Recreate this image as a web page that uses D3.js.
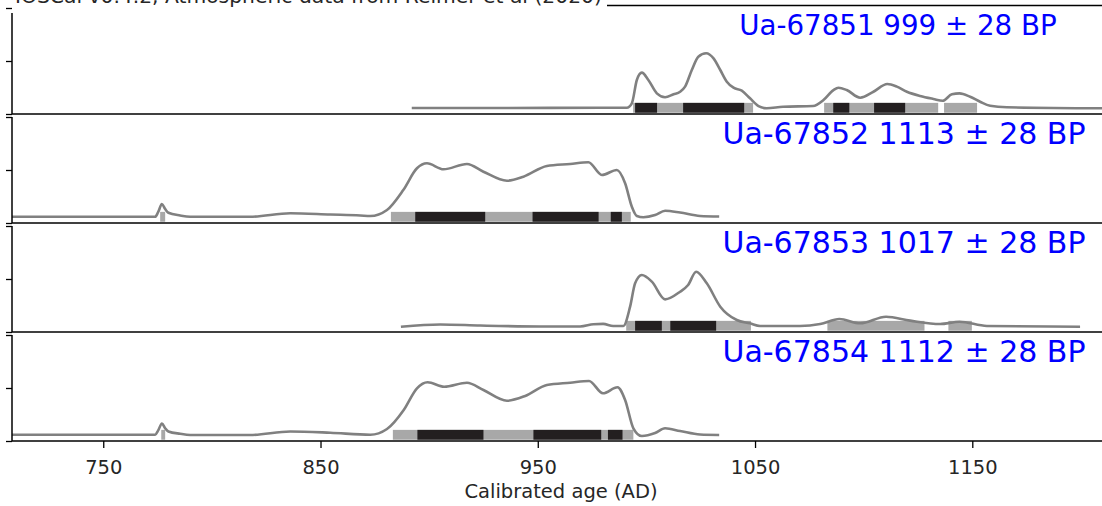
<html>
<head>
<meta charset="utf-8">
<script src="https://d3js.org/d3.v7.min.js"></script>
<style>
  body { margin: 0; background: #fff; }
  text { font-family: "DejaVu Sans", sans-serif; }
</style>
</head>
<body>
<div id="chart"></div>
<script>
var width = 1102, height = 506;

var titleText = "IOSCal v0.4.2, Atmospheric data from Reimer et al (2020)";
var xTicks = [750, 850, 950, 1050, 1150];
var xTitle = "Calibrated age (AD)";

var sampleLabels = [
  "Ua-67851 999 ± 28 BP",
  "Ua-67852 1113 ± 28 BP",
  "Ua-67853 1017 ± 28 BP",
  "Ua-67854 1112 ± 28 BP"
];

// probability curves: [year, plotted height as share of the panel]
var curve1 = [[892,.057],[933,.057],[979,.059],[991,.059],[993.3,.101],[995.6,.321],[997.9,.39],
  [1000.9,.321],[1004.8,.195],[1008.6,.158],[1012.5,.186],[1015.5,.21],[1017.8,.258],[1020.9,.415],
  [1023.9,.541],[1027.5,.573],[1030.9,.525],[1034,.415],[1037,.305],[1040.1,.248],[1043.9,.22],
  [1047.7,.148],[1051.6,.075],[1055.4,.054],[1062.9,.069],[1076.7,.075],[1081.5,.132],[1086.1,.226],
  [1088.4,.248],[1092.2,.226],[1098.4,.154],[1104.5,.21],[1110.9,.283],[1115.3,.258],[1119.9,.21],
  [1126,.17],[1132.1,.142],[1136.4,.125],[1140.6,.186],[1144.1,.195],[1149,.163],[1153.6,.116],
  [1158.2,.078],[1165.9,.063],[1209.7,.054]];
var curve2 = [[708,.059],[773.9,.059],[775.3,.104],[777,.179],[778.5,.132],[780,.097],[785.4,.071],
  [790,.059],[817.6,.059],[836.1,.092],[854.5,.08],[868.3,.071],[872.9,.066],[880.6,.123],[888.1,.311],
  [894.4,.516],[899,.563],[906.6,.507],[917.4,.557],[925,.484],[935.8,.399],[943.4,.437],[954.2,.538],
  [964.9,.557],[973.3,.573],[979.5,.453],[986.4,.5],[990.2,.375],[993.3,.154],[995.6,.066],[998.6,.054],
  [1004,.075],[1008.6,.116],[1015.5,.099],[1024.7,.066],[1033.5,.061]];
var curve3 = [[887,.05],[905.1,.071],[923.5,.061],[951.1,.052],[969.5,.052],[975.6,.073],[980.1,.077],
  [984.7,.057],[989.4,.057],[992.5,.239],[994.8,.459],[997.9,.538],[1002.5,.475],[1008.6,.308],
  [1015.5,.38],[1019.2,.443],[1022.9,.569],[1027.8,.459],[1034,.239],[1041.6,.113],[1047.7,.082],
  [1052.3,.057],[1070.7,.057],[1080,.075],[1088.8,.123],[1098.4,.082],[1110.3,.144],[1121.4,.107],
  [1135.2,.075],[1144.1,.097],[1156.7,.057],[1199.6,.05]];
var curve4 = [[708,.059],[773.9,.059],[775.3,.1],[777,.165],[778.5,.12],[780,.09],[785.4,.068],
  [790,.057],[817.6,.057],[836.1,.09],[854.5,.078],[872.9,.059],[880.6,.113],[888.3,.292],[894.4,.497],
  [899.3,.554],[906.9,.512],[917.4,.55],[925,.481],[935.8,.38],[944.2,.425],[954.2,.528],[964.9,.55],
  [973.6,.566],[980,.45],[986.7,.507],[990.2,.387],[994,.12],[997.9,.047],[1004,.075],[1008.6,.12],
  [1015.5,.094],[1024.7,.061],[1033.5,.057]];

// highest density ranges (95% grey, 68% black)
var hpd95 = [
  [[993.9,1049.1],[1081.8,1134.3],[1137,1152.2]],
  [[776.2,778.5],[882.4,992.8]],
  [[990.7,1048.1],[1083.3,1128],[1139,1149.8]],
  [[776.7,778.5],[883.3,994]]
];
var hpd68 = [
  [[994.8,1004.9],[1016.9,1045],[1086,1093.4],[1104.8,1119.1]],
  [[893.6,925.8],[947.6,978],[983.6,988.7]],
  [[994.8,1007.1],[1011,1032.1]],
  [[894.6,925],[948,979.2],[982.3,989]]
];
var curves = [curve1, curve2, curve3, curve4];

var left = 12, right = 1102, firstTop = 8, panelH = 106, gap = 3;
var barLo = 0.012, barHi = 0.105;
var labelSize = [27.7, 30, 30, 30], labelX = [898, 904, 904, 904];

var svg = d3.select("#chart").append("svg")
    .attr("width", width).attr("height", height);
svg.append("rect").attr("width", width).attr("height", height).attr("fill", "#fff");

var x = d3.scaleLinear().domain([708, 1209.7]).range([left, right]);

// clipped title at the very top
svg.append("text")
    .attr("x", 15).attr("y", 3)
    .attr("font-size", 20.3).attr("fill", "#262626")
    .text(titleText);
svg.append("line")
    .attr("x1", 607).attr("x2", right).attr("y1", 5.5).attr("y2", 5.5)
    .attr("stroke", "#000").attr("stroke-width", 1.3);

var line = d3.line()
    .x(function(d) { return x(d[0]); })
    .curve(d3.curveMonotoneX);

curves.forEach(function(c, i) {
  var top = firstTop + i * (panelH + gap);
  var y = d3.scaleLinear().domain([0, 1]).range([top + panelH, top]);
  var g = svg.append("g");

  g.selectAll("rect.r95").data(hpd95[i]).enter().append("rect")
    .attr("x", function(d) { return x(d[0]); })
    .attr("width", function(d) { return x(d[1]) - x(d[0]); })
    .attr("y", y(barHi)).attr("height", y(barLo) - y(barHi))
    .attr("fill", "#a8a8a8");
  g.selectAll("rect.r68").data(hpd68[i]).enter().append("rect")
    .attr("x", function(d) { return x(d[0]); })
    .attr("width", function(d) { return x(d[1]) - x(d[0]); })
    .attr("y", y(barHi)).attr("height", y(barLo) - y(barHi))
    .attr("fill", "#231f20");

  g.append("path")
    .attr("d", line.y(function(d) { return y(d[1]); })(c))
    .attr("fill", "none").attr("stroke", "#808080").attr("stroke-width", 2.6);

  // left axis: ticks with no labels
  var yAxis = g.append("g").attr("transform", "translate(" + left + ",0)")
    .call(d3.axisLeft(y).tickValues([0, 0.5, 1]).tickSize(6).tickFormat(""));
  yAxis.select(".domain").remove();
  yAxis.selectAll("line").attr("stroke", "#000").attr("stroke-width", 1.3);
  g.append("line")
    .attr("x1", left).attr("x2", left)
    .attr("y1", i === 0 ? 13 : top).attr("y2", top + panelH)
    .attr("stroke", "#000").attr("stroke-width", 1.5);
  g.append("line")
    .attr("x1", left).attr("x2", right)
    .attr("y1", top + panelH).attr("y2", top + panelH)
    .attr("stroke", "#000").attr("stroke-width", 1.5);

  g.append("text")
    .attr("x", labelX[i]).attr("y", top + 27)
    .attr("text-anchor", "middle")
    .attr("font-size", labelSize[i]).attr("fill", "#0000ff")
    .text(sampleLabels[i]);
});

var bottom = firstTop + 3 * (panelH + gap) + panelH;
var xAxis = svg.append("g").attr("transform", "translate(0," + bottom + ")")
  .call(d3.axisBottom(x).tickValues(xTicks).tickSize(7).tickPadding(12).tickFormat(d3.format("d")));
xAxis.select(".domain").remove();
xAxis.selectAll("line").attr("stroke", "#000").attr("stroke-width", 1.3);
xAxis.selectAll("text").attr("font-size", 19.5).attr("fill", "#262626")
  .attr("font-family", "DejaVu Sans, sans-serif");

svg.append("text")
  .attr("x", 561).attr("y", 498)
  .attr("text-anchor", "middle").attr("font-size", 19.5).attr("fill", "#262626")
  .text(xTitle);
</script>
</body>
</html>
